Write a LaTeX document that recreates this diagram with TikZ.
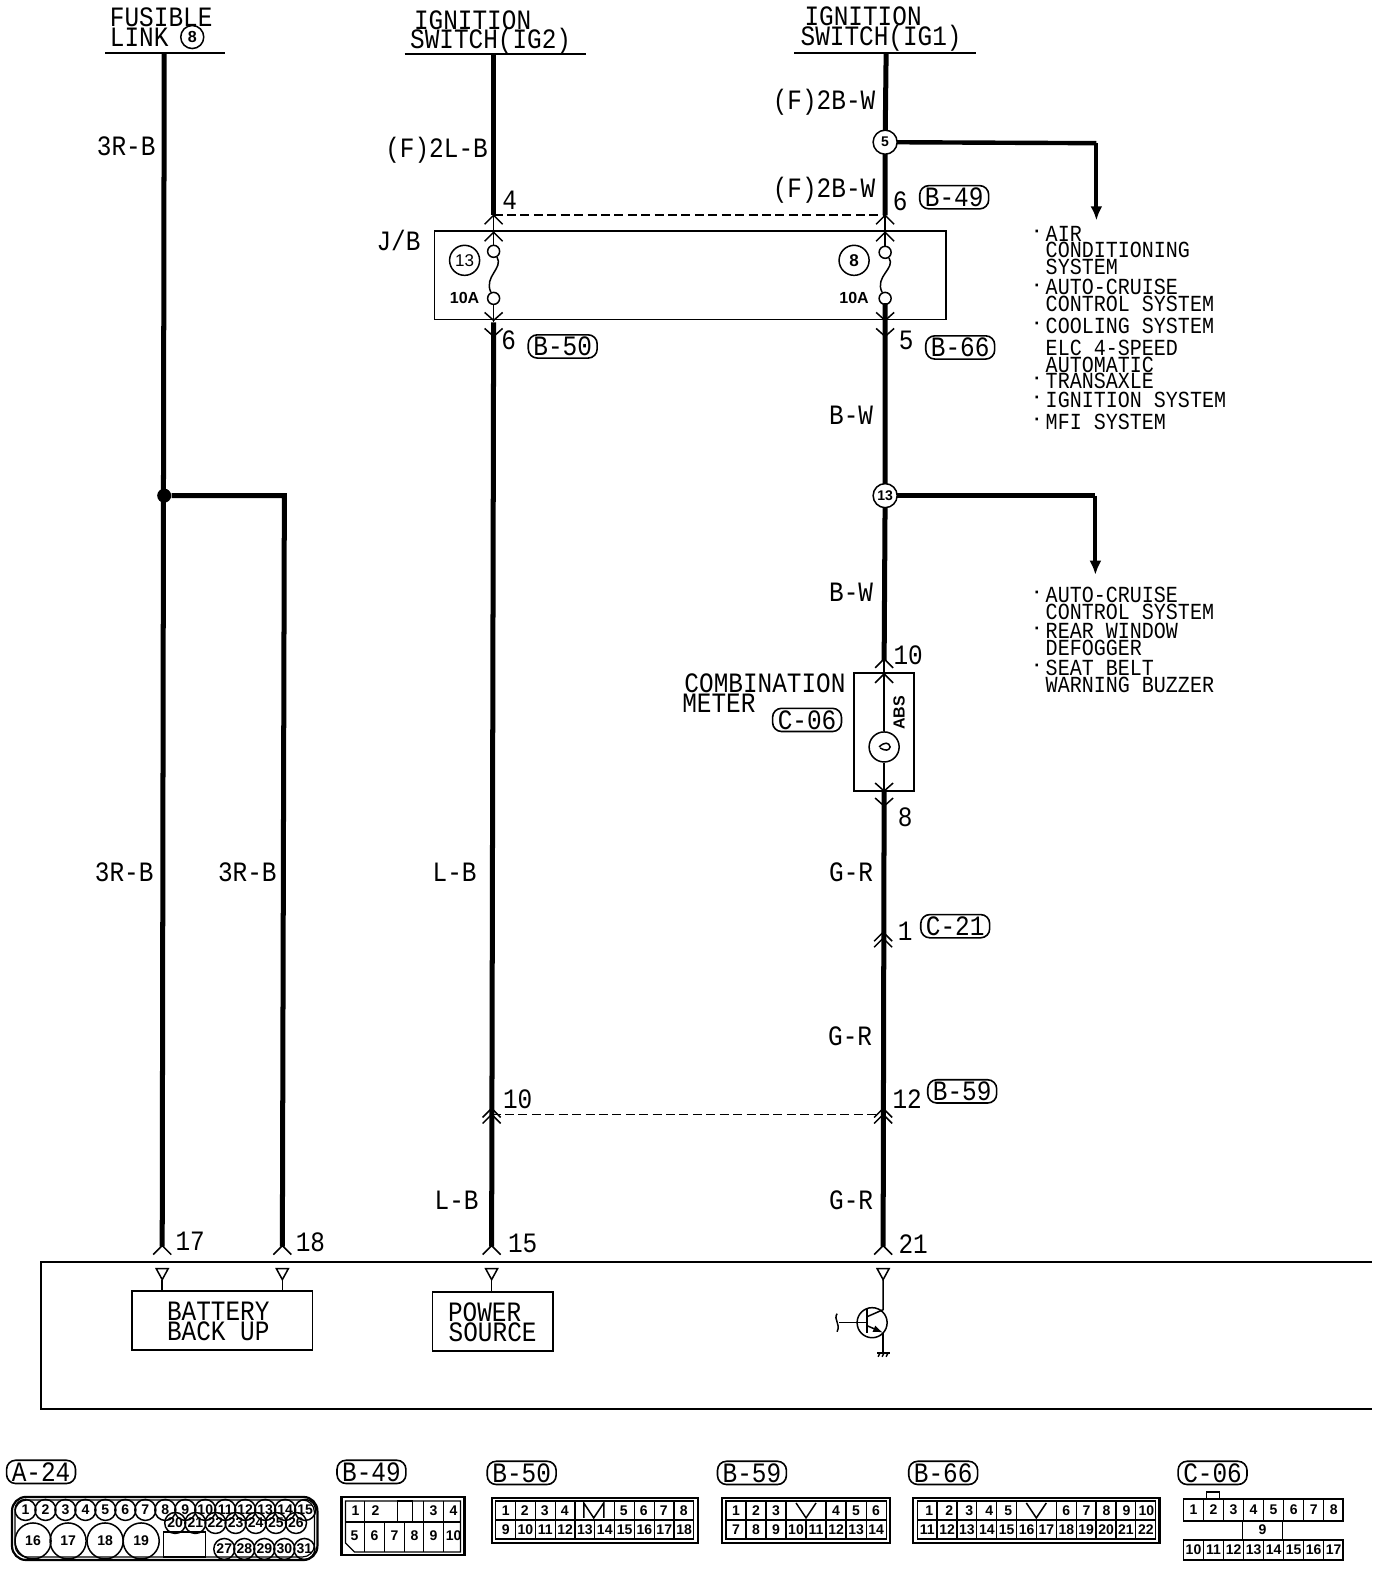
\documentclass[tikz,border=0pt]{standalone}
\usepackage{fontspec}
\usetikzlibrary{arrows.meta}
\setmainfont{Liberation Mono}
\newfontfamily\mainf[FakeStretch=0.87]{Liberation Mono}
\newfontfamily\listf[FakeStretch=0.87]{Liberation Mono}
\newfontfamily\pinf{Liberation Sans}
\tikzset{
 lab/.style={font=\mainf\fontsize{14}{14}\selectfont,inner sep=0pt,text height=9.2pt,text depth=0pt},
 lst/.style={font=\listf\fontsize{11.5}{11.5}\selectfont,inner sep=0pt,anchor=west,text height=7.6pt,text depth=0pt},
 lstd/.style={font=\pinf\bfseries\fontsize{9}{9}\selectfont,inner sep=0pt,anchor=center},
 badge/.style={font=\mainf\fontsize{14}{14}\selectfont,draw,rounded corners=4.5pt,line width=.8pt,inner sep=1.2pt,text height=9.2pt,text depth=0pt,text width=32pt,align=center},
 pint/.style={font=\pinf\bfseries\fontsize{7}{7}\selectfont,inner sep=0pt},
 pinb/.style={font=\pinf\bfseries\fontsize{8}{8}\selectfont,inner sep=0pt},
 wire/.style={line width=2.5pt},
 thinw/.style={line width=.75pt},
 hdr/.style={line width=1.1pt},
 dashw/.style={line width=.8pt,dash pattern=on 4.5pt off 2.2pt},
 frm/.style={line width=.9pt},
 frmb/.style={line width=1.1pt},
 cellw/.style={line width=.6pt},
 ring/.style={draw,circle,line width=.75pt,inner sep=0pt},
 fusec/.style={draw,circle,line width=.75pt,inner sep=0pt,minimum size=6pt},
 tri/.style={line width=.75pt},
 arr/.style={line width=2pt,-{Latex[length=7pt,width=6pt]}},
}
\newcommand{\chup}[2]{\draw[thinw] ({#1-9},{#2+9}) -- (#1,#2) -- ({#1+9},{#2+9});}
\newcommand{\chdn}[2]{\draw[thinw] ({#1-9},{#2-8}) -- (#1,#2) -- ({#1+9},{#2-8});}
\newcommand{\trian}[2]{\draw[tri] ({#1-6},#2) -- ({#1+6},#2) -- (#1,{#2+11}) -- cycle;}
\begin{document}
\begin{tikzpicture}[x=0.5pt,y=-0.5pt]
\useasboundingbox (0,0) rectangle (1390,1568);
\fill[white] (0,0) rectangle (1390,1568);
% headers
\node[lab] (t1) at (161,17) {FUSIBLE};
\node[lab] (t2) at (139,37) {LINK};
\node[ring,minimum size=11.5pt,pinb] (fl8) at (192,37) {8};
\draw[hdr] (105,53) -- (225,53);
\node[lab] (t3) at (472,20) {IGNITION};
\node[lab] (t4) at (490,39) {SWITCH(IG2)};
\draw[hdr] (404,54) -- (585,54);
\node[lab] (t5) at (862,16) {IGNITION};
\node[lab] (t6) at (880,36) {SWITCH(IG1)};
\draw[hdr] (793,53) -- (975,53);
% coordinates
\coordinate (flt) at (164,53);
\coordinate (flb) at (162,1245);
\node[circle,fill=black,inner sep=0pt,minimum size=7pt] (jd) at (164,495) {};
\coordinate (bk) at (284,495);
\coordinate (brb) at (282,1245);
\coordinate (i2t) at (493,53);
\coordinate (i2a) at (493,215);
\coordinate (i2b) at (493,322);
\coordinate (i2c) at (491,1245);
\coordinate (i1t) at (885,53);
\coordinate (i1a) at (884,215);
\coordinate (i1b) at (884,303);
\coordinate (i1c) at (883,660);
\coordinate (i1d) at (883,790);
\coordinate (i1e) at (882,1245);
\coordinate (j5c) at (884,142);
\coordinate (j13c) at (884,495);
% wires
\draw[wire] (flt) -- (flb);
\draw[wire] (jd) -- (bk) -- (brb);
\draw[wire] (i2t) -- (i2a);
\draw[wire] (i2b) -- (i2c);
\draw[wire] (i1t) -- (j5c) -- (i1a);
\draw[wire] (i1b) -- (j13c) -- (i1c);
\draw[wire] (i1d) -- (i1e);
\coordinate (a1) at (1095,143);
\coordinate (a1e) at (1095,220);
\draw[line width=2.2pt] (j5c) -- (a1);
\draw[arr] (a1) -- (a1e);
\coordinate (a2) at (1094,495);
\coordinate (a2e) at (1094,574);
\draw[line width=2.2pt] (j13c) -- (a2);
\draw[arr] (a2) -- (a2e);
\node[ring,fill=white,minimum size=12pt,pint] (j5) at (j5c) {5};
\node[ring,fill=white,minimum size=12pt,pint] (j13) at (j13c) {13};
% dashed
\draw[dashw] (i2a) -- (i1a);
\coordinate (d2a) at (491,1113);
\coordinate (d2b) at (882,1113);
\draw[dashw] (d2a) -- (d2b);
% J/B box
\node[lab] (jb) at (398,241) {J/B};
\draw[frm] (434,231) rectangle (945,319);
\node[fusec] (f1a) at (493,251) {};
\node[fusec] (f1b) at (493,298) {};
\node[fusec] (f2a) at (884,252) {};
\node[fusec] (f2b) at (884,298) {};
\draw[thinw] (i2a) -- (f1a);
\draw[thinw] (i1a) -- (f2a);
\draw[thinw] (f1a) .. controls (503,268) and (483,276) .. (f1b);
\draw[thinw] (f2a) .. controls (895,268) and (873,276) .. (f2b);
\draw[thinw] (f1b) -- (i2b);
\draw[line width=1.4pt] (f2b) -- (i1b);
\node[ring,minimum size=15pt,font=\pinf\fontsize{8.5}{8.5}\selectfont] (c13) at (464,260) {13};
\node[ring,minimum size=15pt,font=\pinf\bfseries\fontsize{8.5}{8.5}\selectfont] (c8) at (853,260) {8};
\node[pinb] (a10l) at (464,298) {10A};
\node[pinb] (a10r) at (853,298) {10A};
\chup{493}{215}\chup{493}{232}
\chup{884}{215}\chup{884}{232}
\chdn{493}{320}\chdn{493}{336}
\chdn{884}{320}\chdn{884}{336}
% top labels
\node[lab] at (823,100) (l1) {(F)2B-W};
\node[lab] at (126,146) (l2) {3R-B};
\node[lab] at (436,148) (l3) {(F)2L-B};
\node[lab] at (509,200) (l4) {4};
\node[lab] at (823,188) (l5) {(F)2B-W};
\node[lab] at (899,201) (l6) {6};
\node[badge] at (953,197) (b49) {B-49};
\node[lab] at (508,340) (l7) {6};
\node[badge] at (562,346) (b50) {B-50};
\node[lab] at (905,340) (l8) {5};
\node[badge] at (959,347) (b66) {B-66};
\node[lab] at (850,415) (l9) {B-W};
\node[lab] at (850,592) (l10) {B-W};
% lists
\node[lstd] (p1) at (1036,234) {·};
\node[lst] (s1) at (1044,234) {AIR};
\node[lst] (s2) at (1044,250) {CONDITIONING};
\node[lst] (s3) at (1044,267) {SYSTEM};
\node[lstd] (p2) at (1036,287) {·};
\node[lst] (s4) at (1044,287) {AUTO-CRUISE};
\node[lst] (s5) at (1044,304) {CONTROL SYSTEM};
\node[lstd] (p3) at (1036,325) {·};
\node[lst] (s6) at (1044,325) {COOLING SYSTEM};
\node[lst] (s7) at (1044,347) {ELC 4-SPEED};
\node[lst] (s8) at (1044,364) {AUTOMATIC};
\node[lstd] (p4) at (1036,380) {·};
\node[lst] (s9) at (1044,380) {TRANSAXLE};
\node[lstd] (p5) at (1036,399) {·};
\node[lst] (s10) at (1044,399) {IGNITION SYSTEM};
\node[lstd] (p6) at (1036,421) {·};
\node[lst] (s11) at (1044,421) {MFI SYSTEM};
\node[lstd] (p7) at (1036,594) {·};
\node[lst] (u1) at (1044,594) {AUTO-CRUISE};
\node[lst] (u2) at (1044,611) {CONTROL SYSTEM};
\node[lstd] (p8) at (1036,630) {·};
\node[lst] (u3) at (1044,630) {REAR WINDOW};
\node[lst] (u4) at (1044,647) {DEFOGGER};
\node[lstd] (p9) at (1036,667) {·};
\node[lst] (u5) at (1044,667) {SEAT BELT};
\node[lst] (u6) at (1044,684) {WARNING BUZZER};
% meter
\node[lab] at (907,654) (m10) {10};
\node[lab] at (764,682) (m1) {COMBINATION};
\node[lab] at (718,702) (m2) {METER};
\node[badge] at (806,719) (c06) {C-06};
\draw[frm] (853,672) rectangle (913,790);
\node[ring,minimum size=15pt] (mc) at (883,746) {};
\draw[thinw] (i1c) -- (mc);
\draw[thinw] (mc) -- (i1d);
\draw[thinw] (878,746) .. controls (883,741) and (888,741) .. (889,746) .. controls (888,750) and (884,750) .. (879,747);
\node[pinb,rotate=90] (abs) at (898,712) {ABS};
\chup{883}{658}\chup{883}{673}
\chdn{883}{790}\chdn{883}{805}
\node[lab] at (904,816) (m8) {8};
% lower labels
\node[lab] at (124,871) (n1) {3R-B};
\node[lab] at (247,871) (n2) {3R-B};
\node[lab] at (454,871) (n3) {L-B};
\node[lab] at (850,871) (n4) {G-R};
\node[lab] at (904,930) (n5) {1};
\node[badge] at (954,925) (c21) {C-21};
\chup{882}{931}\chup{882}{937}
\node[lab] at (849,1035) (n6) {G-R};
\node[lab] at (517,1098) (n7) {10};
\node[lab] at (906,1098) (n8) {12};
\node[badge] at (961,1090) (b59) {B-59};
\chup{491}{1107}\chup{491}{1113}
\chup{882}{1107}\chup{882}{1113}
\node[lab] at (456,1199) (n9) {L-B};
\node[lab] at (850,1199) (n10) {G-R};
\node[lab] at (190,1240) (n11) {17};
\node[lab] at (310,1241) (n12) {18};
\node[lab] at (522,1242) (n13) {15};
\node[lab] at (912,1243) (n14) {21};
\chup{162}{1244}\chup{282}{1244}\chup{491}{1244}\chup{882}{1244}
% ECU
\draw[frm] (1370,1260) -- (41,1260) -- (41,1407) -- (1370,1407);
\trian{162}{1267}\trian{282}{1267}\trian{491}{1267}\trian{882}{1267}
\node[draw,frm,minimum width=90pt,minimum height=29.5pt,inner sep=0pt] (bat) at (222,1318.5) {};
\node[draw,frm,minimum width=60pt,minimum height=29.5pt,inner sep=0pt] (pow) at (492,1319.5) {};
\node[lab] at (218,1310) (e1) {BATTERY};
\node[lab] at (218,1330) (e2) {BACK UP};
\node[lab] at (484,1311) (e3) {POWER};
\node[lab] at (492,1331) (e4) {SOURCE};
\draw[thinw] (162,1278) -- (162,1289);
\draw[thinw] (282,1278) -- (282,1289);
\draw[thinw] (491,1278) -- (491,1290);
% transistor
\node[ring,minimum size=15pt] (q) at (871,1321) {};
\draw[thinw] (882,1278) -- (882,1308) -- (866,1315);
\draw[line width=1pt] (866,1306) -- (866,1331);
\draw[thinw] (838,1321) -- (866,1321);
\draw[thinw] (836,1312) .. controls (832,1318) and (840,1322) .. (836,1330);
\draw[thinw,-{Latex[length=5pt,width=3.5pt]}] (866,1324) -- (882,1331);
\draw[thinw] (882,1331) -- (882,1350);
\draw[line width=1pt] (876,1351) -- (889,1351);
\draw[thinw] (879,1351) -- (877,1355) (883,1351) -- (881,1355) (887,1351) -- (885,1355);
% connector badges
\node[badge] at (41,1470) (ba) {A-24};
\node[badge] at (371,1470) (bb) {B-49};
\node[badge] at (521,1471) (bc) {B-50};
\node[badge] at (751,1471) (bd) {B-59};
\node[badge] at (942,1471) (be) {B-66};
\node[badge] at (1211,1471) (bf) {C-06};
% A-24
\draw[frmb,rounded corners=7pt] (12,1495) rectangle (317,1558);
\draw[cellw,rounded corners=6pt] (15,1498) rectangle (314,1555);
\foreach \n in {1,...,15}{\node[ring,pint,minimum size=10.5pt] (ap\n) at ({5.5+\n*19.95},1508) {\n};}
\node[ring,pint,minimum size=18pt] (ap16) at (33,1539) {16};
\node[ring,pint,minimum size=18pt] (ap17) at (68,1539) {17};
\node[ring,pint,minimum size=18pt] (ap18) at (105,1539) {18};
\node[ring,pint,minimum size=18pt] (ap19) at (141,1539) {19};
\foreach \n in {20,...,26}{\node[ring,pint,minimum size=10.5pt] (ap\n) at ({175+(\n-20)*20.1},1521) {\n};}
\foreach \n in {27,...,31}{\node[ring,pint,minimum size=10.5pt] (ap\n) at ({224+(\n-27)*20},1547) {\n};}
\draw[cellw] (163,1530) rectangle (205,1555);
% B-49
\draw[frmb] (341,1495) rectangle (464,1553);
\draw[cellw] (345,1499) -- (460,1499) -- (460,1550) -- (354,1550) -- (345,1541) -- cycle;
\draw[cellw] (345,1520) -- (460,1520);
\foreach \x in {364,384,404,423,443}{\draw[cellw] (\x,1520) -- (\x,1550);}
\foreach \x in {364,423,443}{\draw[cellw] (\x,1499) -- (\x,1520);}
\draw[cellw] (397,1499) rectangle (412,1520);
\foreach \n/\x in {1/355,2/375,3/433,4/453}{\node[pint] (bp\n) at (\x,1509) {\n};}
\foreach \n/\x in {5/354,6/374,7/394,8/414,9/433,10/453}{\node[pint] (bp\n) at (\x,1534) {\n};}
% B-50
\draw[frmb] (491,1496) rectangle (697,1541);
\draw[cellw] (495,1499) rectangle (693,1537);
\draw[cellw] (495,1518) -- (693,1518);
\foreach \i in {1,...,9}{\draw[cellw] ({495+\i*19.8},1518) -- ({495+\i*19.8},1537);}
\foreach \i in {1,2,3,4,6,7,8,9}{\draw[cellw] ({495+\i*19.8},1499) -- ({495+\i*19.8},1518);}
\draw[thinw] (583,1516) -- (583,1501) -- (593,1516) -- (603,1501) -- (603,1516);
\foreach \n/\x in {1/505,2/524,3/544,4/564,5/623,6/643,7/663,8/683}{\node[pint] (cp\n) at (\x,1509) {\n};}
\foreach \n in {9,...,18}{\node[pint] (cp\n) at ({505+(\n-9)*19.8},1528) {\n};}
% B-59
\draw[frmb] (721,1496) rectangle (889,1541);
\draw[cellw] (725,1499) rectangle (885,1537);
\draw[cellw] (725,1518) -- (885,1518);
\foreach \i in {1,...,7}{\draw[cellw] ({725+\i*20},1518) -- ({725+\i*20},1537);}
\foreach \i in {1,2,3,5,6,7}{\draw[cellw] ({725+\i*20},1499) -- ({725+\i*20},1518);}
\draw[thinw] (795,1501) -- (805,1516) -- (815,1501);
\foreach \n/\x in {1/735,2/755,3/775,4/835,5/855,6/875}{\node[pint] (dp\n) at (\x,1509) {\n};}
\foreach \n in {7,...,14}{\node[pint] (dp\n) at ({735+(\n-7)*20},1528) {\n};}
% B-66
\draw[frmb] (912,1496) rectangle (1158,1541);
\draw[cellw] (916,1499) rectangle (1154,1537);
\draw[cellw] (916,1518) -- (1154,1518);
\foreach \i in {1,...,11}{\draw[cellw] ({916+\i*19.85},1518) -- ({916+\i*19.85},1537);}
\foreach \i in {1,2,3,4,5,7,8,9,10,11}{\draw[cellw] ({916+\i*19.85},1499) -- ({916+\i*19.85},1518);}
\draw[thinw] (1025,1501) -- (1035,1516) -- (1045,1501);
\foreach \n/\x in {1/928,2/948,3/968,4/988,5/1007,6/1065,7/1085,8/1105,9/1125,10/1145}{\node[pint] (ep\n) at (\x,1509) {\n};}
\foreach \n in {11,...,22}{\node[pint] (ep\n) at ({926+(\n-11)*19.85},1528) {\n};}
% C-06
\draw[frm] (1182,1497) rectangle (1341,1519);
\draw[frm] (1205,1490) rectangle (1218,1497);
\foreach \i in {1,...,7}{\draw[cellw] ({1182+\i*20},1497) -- ({1182+\i*20},1519);}
\draw[cellw] (1241,1519) -- (1241,1538) (1281,1519) -- (1281,1538);
\draw[frm] (1182,1538) rectangle (1341,1558);
\foreach \i in {1,...,7}{\draw[cellw] ({1182+\i*20},1538) -- ({1182+\i*20},1558);}
\foreach \n in {1,...,8}{\node[pint] (fp\n) at ({1172+\n*20},1508) {\n};}
\node[pint] (fp9) at (1261,1528) {9};
\foreach \n in {10,...,17}{\node[pint] (fp\n) at ({1192+(\n-10)*20},1548) {\n};}
\end{tikzpicture}
\end{document}
